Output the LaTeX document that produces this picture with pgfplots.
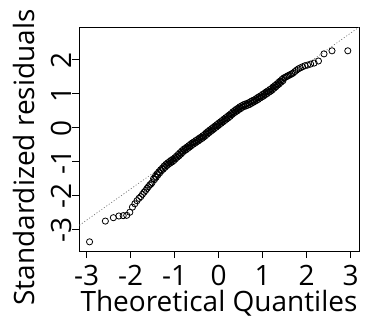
\documentclass[border=0pt]{standalone}
\usepackage{fontspec}
\setmainfont{Open Sans}
\usepackage{pgfplots}
\pgfplotsset{compat=1.18}

\begin{document}
\begin{tikzpicture}
% fixed page box, axis frame sits at (0,0)-(280pt,224pt)
\useasboundingbox (-79pt,-71pt) rectangle (303pt,251pt);
\begin{axis}[
    scale only axis,
    width=280pt, height=224pt,
    at={(0,0)}, anchor=south west,
    xmin=-3.175, xmax=3.19,
    ymin=-3.64, ymax=2.95,
    xtick={-3,-2,-1,0,1,2,3},
    xticklabels={-3,-2,-1,0,1,2,3},
    ytick={-3,-2,-1,0,1,2},
    yticklabels={-3,-2,-1,0,1,2},
    tick pos=left,
    tick align=outside,
    major tick length=7pt,
    axis line style={line width=0.8pt},
    every tick/.style={black, line width=0.8pt},
    tick label style={font=\fontsize{28}{30}\selectfont, inner sep=0pt},
    xticklabel style={anchor=north, yshift=-7pt},
    yticklabel style={rotate=90, anchor=south, xshift=-1pt},
    clip=true,
  ]
  % reference line through the quartiles
  \addplot[black!55, line width=0.7pt, dash pattern=on 1pt off 2pt]
    coordinates {(-4,-3.648) (4,3.688)};
  % lower tail
  \addplot[only marks, mark=o, mark size=3.1pt, black, line width=0.8pt]
    coordinates {
    (-2.935,-3.37) (-2.576,-2.76) (-2.394,-2.66) (-2.268,-2.61) (-2.170,-2.60)
    (-2.090,-2.59) (-2.020,-2.50) (-1.960,-2.35) (-1.906,-2.25) (-1.857,-2.16)
    (-1.812,-2.09) (-1.770,-2.04) (-1.732,-1.97) (-1.695,-1.91) (-1.661,-1.86)
    (-1.629,-1.80) (-1.598,-1.75) (-1.569,-1.70) (-1.541,-1.67) (-1.514,-1.63)
    };
  % central band
  \addplot[only marks, mark=o, mark size=3.1pt, black, line width=0.8pt]
    coordinates {
    (-1.48,-1.51) (-1.46,-1.54) (-1.44,-1.44) (-1.42,-1.47) (-1.40,-1.37)
    (-1.38,-1.40) (-1.36,-1.31) (-1.34,-1.34) (-1.32,-1.25) (-1.30,-1.28)
    (-1.28,-1.20) (-1.26,-1.23) (-1.24,-1.14) (-1.22,-1.18) (-1.20,-1.09)
    (-1.18,-1.13) (-1.16,-1.05) (-1.14,-1.09) (-1.12,-1.01) (-1.10,-1.05)
    (-1.08,-0.97) (-1.06,-1.02) (-1.04,-0.94) (-1.02,-0.98) (-1.00,-0.90)
    (-0.98,-0.93) (-0.96,-0.85) (-0.94,-0.88) (-0.92,-0.80) (-0.90,-0.84)
    (-0.88,-0.75) (-0.86,-0.79) (-0.84,-0.70) (-0.82,-0.74) (-0.80,-0.65)
    (-0.78,-0.69) (-0.76,-0.62) (-0.74,-0.66) (-0.72,-0.58) (-0.70,-0.62)
    (-0.68,-0.54) (-0.66,-0.58) (-0.64,-0.50) (-0.62,-0.54) (-0.60,-0.46)
    (-0.58,-0.50) (-0.56,-0.43) (-0.54,-0.47) (-0.52,-0.39) (-0.50,-0.43)
    (-0.48,-0.36) (-0.46,-0.40) (-0.44,-0.32) (-0.42,-0.36) (-0.40,-0.29)
    (-0.38,-0.33) (-0.36,-0.25) (-0.34,-0.29) (-0.32,-0.21) (-0.30,-0.25)
    (-0.28,-0.16) (-0.26,-0.20) (-0.24,-0.12) (-0.22,-0.16) (-0.20,-0.08)
    (-0.18,-0.12) (-0.16,-0.04) (-0.14,-0.08) (-0.12,0.00) (-0.10,-0.04)
    (-0.08,0.04) (-0.06,0.00) (-0.04,0.08) (-0.02,0.04) (0.00,0.12)
    (0.02,0.08) (0.04,0.16) (0.06,0.12) (0.08,0.20) (0.10,0.16)
    (0.12,0.24) (0.14,0.20) (0.16,0.28) (0.18,0.24) (0.20,0.32)
    (0.22,0.28) (0.24,0.36) (0.26,0.32) (0.28,0.40) (0.30,0.37)
    (0.32,0.45) (0.34,0.41) (0.36,0.49) (0.38,0.45) (0.40,0.53)
    (0.42,0.48) (0.44,0.56) (0.46,0.52) (0.48,0.60) (0.50,0.55)
    (0.52,0.63) (0.54,0.59) (0.56,0.66) (0.58,0.61) (0.60,0.68)
    (0.62,0.63) (0.64,0.70) (0.66,0.65) (0.68,0.72) (0.70,0.67)
    (0.72,0.75) (0.74,0.70) (0.76,0.78) (0.78,0.73) (0.80,0.80)
    (0.82,0.76) (0.84,0.83) (0.86,0.79) (0.88,0.87) (0.90,0.82)
    (0.92,0.90) (0.94,0.86) (0.96,0.93) (0.98,0.89) (1.00,0.97)
    (1.02,0.92) (1.04,1.00) (1.06,0.96) (1.08,1.04) (1.10,0.99)
    (1.12,1.07) (1.14,1.03) (1.16,1.11) (1.18,1.06) (1.20,1.14)
    (1.22,1.10) (1.24,1.19) (1.26,1.15) (1.28,1.23) (1.30,1.19)
    (1.32,1.27) (1.34,1.24) (1.36,1.32) (1.38,1.28) (1.40,1.36)
    (1.42,1.33) (1.44,1.41) (1.46,1.37) (1.48,1.45)
    };
  % upper tail
  \addplot[only marks, mark=o, mark size=3.1pt, black, line width=0.8pt]
    coordinates {
    (1.514,1.47) (1.541,1.49) (1.569,1.51) (1.598,1.53) (1.629,1.55)
    (1.661,1.57) (1.695,1.60) (1.732,1.64) (1.770,1.68) (1.812,1.72)
    (1.857,1.75) (1.906,1.78) (1.960,1.81) (2.020,1.83) (2.090,1.86)
    (2.170,1.89) (2.268,1.95) (2.394,2.16) (2.576,2.25) (2.935,2.25)
    };
\end{axis}
\node[rotate=90, anchor=base, font=\fontsize{28}{30}\selectfont]
  at (-44pt,93.5pt) {Standardized residuals};
\node[anchor=base, font=\fontsize{28}{30}\selectfont]
  at (140pt,-60pt) {Theoretical Quantiles};
\end{tikzpicture}
\end{document}
